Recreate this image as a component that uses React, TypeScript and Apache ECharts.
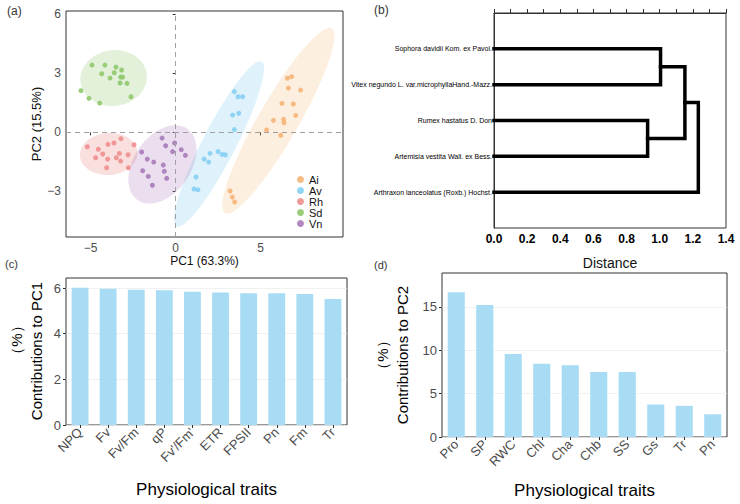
import React, { useEffect, useRef } from "react";
import * as echarts from "echarts";

// ---------- Panel (a): PCA scores ----------
const groups = ["Ai", "Av", "Rh", "Sd", "Vn"];
const groupColors = ["#F6B477", "#86CFF3", "#EE8E8E", "#8FC86A", "#A97BBA"];
const ellipseFills = [
  "rgba(248,180,110,0.22)",
  "rgba(120,200,240,0.24)",
  "rgba(235,130,130,0.26)",
  "rgba(140,195,100,0.24)",
  "rgba(170,120,190,0.24)",
];
const aiPoints = [
  [6.57, 2.75], [6.82, 2.83], [6.63, 2.25], [7.35, 2.15], [6.25, 1.47],
  [6.92, 1.44], [5.75, 0.61], [6.35, 0.66], [6.37, 0.49], [7.06, 0.86],
  [5.35, 0.12], [6.18, -0.15], [3.2, -2.98], [3.33, -3.29], [3.47, -3.54],
];
const avPoints = [
  [3.45, 2.07], [3.67, 1.81], [3.94, 1.81], [3.35, 0.88], [3.71, 0.97],
  [3.45, 0.14], [2.02, -1.07], [2.49, -0.98], [2.73, -1.12], [2.92, -1.14],
  [1.67, -1.36], [1.94, -1.51], [1.2, -2.27], [1.08, -2.88], [1.31, -2.92],
];
const rhPoints = [
  [-5.2, -0.73], [-4.55, -0.86], [-4.29, -1.1], [-3.98, -0.61], [-3.63, -0.54],
  [-3.22, -0.32], [-2.45, -0.63], [-4.71, -1.29], [-4.0, -1.36], [-3.49, -1.29],
  [-3.31, -1.07], [-2.8, -1.14], [-3.24, -1.46], [-4.06, -1.8], [-2.78, -1.8],
];
const sdPoints = [
  [-4.92, 3.42], [-4.16, 3.42], [-3.51, 3.32], [-4.35, 2.98], [-3.61, 3.03],
  [-3.18, 3.17], [-3.86, 2.76], [-3.24, 2.81], [-3.12, 2.81], [-3.27, 2.51],
  [-2.86, 2.49], [-5.57, 2.12], [-5.1, 1.73], [-4.47, 1.49], [-2.63, 1.81],
];
const vnPoints = [
  [-0.8, -0.29], [-0.59, -0.68], [-0.06, -0.54], [-2.0, -1.0], [-0.18, -0.98],
  [0.33, -0.88], [0.57, -1.17], [-1.67, -1.36], [-1.29, -1.51], [-0.73, -1.66],
  [-1.94, -1.95], [-1.61, -2.24], [-0.67, -1.98], [-0.53, -2.34], [-1.37, -2.69],
];
const groupPoints = [aiPoints, avPoints, rhPoints, sdPoints, vnPoints];
// ellipse: centre, and two conjugate half-diameters (data units)
const ellipseCenters = [[6.04, 0.59], [2.55, -0.59], [-3.94, -1.1], [-3.65, 2.76], [-0.78, -1.63]];
const ellipseAxisU = [[3.14, 4.7], [2.5, 4.19], [1.69, 0.05], [1.96, 0.1], [1.46, 1.81]];
const ellipseAxisV = [[1.02, -0.51], [0.87, -0.39], [0, 1.07], [-0.05, 1.42], [1.37, -0.83]];
const pcaXTicks = [-5, 0, 5];
const pcaYTicks = [-3, 0, 3, 6];

// ---------- Panel (b): dendrogram ----------
const leafNames = [
  "Sophora davidii Kom. ex Pavol.",
  "Vitex negundo L. var.microphyllaHand.-Mazz.",
  "Rumex hastatus D. Don",
  "Artemisia vestita Wall. ex Bess.",
  "Arthraxon lanceolatus (Roxb.) Hochst.",
];
// merges: [childA, childB, height]; children: leaf "L#" or merge "M#"
const merges: [string, string, number][] = [
  ["L0", "L1", 1.005],
  ["L2", "L3", 0.927],
  ["M0", "M1", 1.152],
  ["M2", "L4", 1.233],
];

// ---------- Panels (c) and (d): contributions ----------
const pc1Traits = ["NPQ", "Fv", "Fv/Fm", "qP", "Fv'/Fm'", "ETR", "FPSII", "Pn", "Fm", "Tr"];
const pc1Values = [6.01, 5.97, 5.92, 5.9, 5.84, 5.8, 5.77, 5.77, 5.74, 5.52];
const pc1Ticks = [0, 2, 4, 6];
const pc2Traits = ["Pro", "SP", "RWC", "Chl", "Cha", "Chb", "SS", "Gs", "Tr", "Pn"];
const pc2Values = [16.67, 15.2, 9.57, 8.45, 8.26, 7.48, 7.48, 3.74, 3.59, 2.62];
const pc2Ticks = [0, 5, 10, 15];

const FONT = 'Arial, "Liberation Sans", Helvetica, sans-serif';

function buildDendroSeries() {
  const nodePos: Record<string, [number, number]> = {};
  leafNames.forEach((_, i) => (nodePos["L" + i] = [0, i + 1]));
  const series: any[] = [];
  merges.forEach(([a, b, h], i) => {
    const pa = nodePos[a];
    const pb = nodePos[b];
    nodePos["M" + i] = [h, (pa[1] + pb[1]) / 2];
    series.push({
      type: "line",
      xAxisIndex: 1,
      yAxisIndex: 1,
      symbol: "none",
      silent: true,
      lineStyle: { color: "#000", width: 3.5, cap: "square", join: "miter" },
      data: [[pa[0], pa[1]], [h, pa[1]], [h, pb[1]], [pb[0], pb[1]]],
    });
  });
  return series;
}

export default function App() {
  const ref = useRef<HTMLDivElement>(null);
  useEffect(() => {
    if (!ref.current) return;
    const chart = echarts.init(ref.current, undefined, { renderer: "svg" });

    const gridBox = { show: true, borderColor: "#333", borderWidth: 1, backgroundColor: "transparent" };
    const grayLabel = () => ({ color: "#4D4D4D", fontSize: 13, fontFamily: FONT });
    const tickStyle = () => ({ show: true, length: 3, lineStyle: { color: "#333" } });

    const barYAxis = (grid: number, max: number, ticks: number[], name: string, gap: number) => ({
      gridIndex: grid,
      type: "value",
      position: "left",
      min: 0,
      max,
      name,
      nameLocation: "middle",
      nameGap: gap,
      nameTextStyle: { fontSize: 15, color: "#000", lineHeight: 20 },
      axisLine: { show: false },
      axisTick: { ...tickStyle(), customValues: ticks },
      axisLabel: { ...grayLabel(), margin: 5, customValues: ticks },
      splitLine: { show: true, lineStyle: { color: "#EEEEEE", width: 0.8 } },
    });

    const option: any = {
      animation: false,
      textStyle: { fontFamily: FONT },
      grid: [
        { ...gridBox, left: 66, top: 11, width: 277, height: 226 },
        { ...gridBox, left: 494, top: 13, width: 232, height: 215 },
        { ...gridBox, left: 66, top: 278, width: 281, height: 147 },
        { ...gridBox, left: 442, top: 273, width: 285, height: 164 },
      ],
      legend: {
        data: groups,
        orient: "vertical",
        left: 292,
        top: 169,
        icon: "circle",
        itemWidth: 7,
        itemHeight: 7,
        itemGap: 0,
        textStyle: { fontSize: 11, lineHeight: 11, color: "#111", fontFamily: FONT },
      },
      xAxis: [
        {
          gridIndex: 0,
          type: "value",
          min: -6.45,
          max: 9.84,
          name: "PC1 (63.3%)",
          nameLocation: "middle",
          nameGap: 18,
          nameTextStyle: { fontSize: 12, color: "#111" },
          axisLine: { show: false },
          axisTick: { ...tickStyle(), customValues: pcaXTicks },
          axisLabel: { ...grayLabel(), fontSize: 12, margin: 5, customValues: pcaXTicks, formatter: (v: number) => (v < 0 ? "\u2212" + Math.abs(v) : String(v)) },
          splitLine: { show: false },
        },
        {
          gridIndex: 1,
          type: "value",
          min: 0,
          max: 1.4,
          interval: 0.2,
          name: "Distance",
          nameLocation: "middle",
          nameGap: 28,
          nameTextStyle: { fontSize: 14, color: "#111" },
          axisLine: { show: true, lineStyle: { color: "#333" } },
          axisTick: { show: true, inside: true, length: 4, lineStyle: { color: "#333" } },
          minorTick: { show: true, splitNumber: 2, length: 4, lineStyle: { color: "#333" } },
          axisLabel: {
            fontSize: 12,
            fontWeight: "bold",
            color: "#000",
            margin: 5,
            formatter: (v: number) => v.toFixed(1),
          },
          splitLine: { show: false },
        },
        {
          gridIndex: 2,
          type: "category",
          data: pc1Traits,
          name: "Physiological traits",
          nameLocation: "middle",
          nameGap: 56,
          nameTextStyle: { fontSize: 17, color: "#000" },
          axisLine: { show: false },
          axisTick: { ...tickStyle(), alignWithLabel: true },
          axisLabel: { ...grayLabel(), rotate: 45, margin: 5, interval: 0 },
        },
        {
          gridIndex: 3,
          type: "category",
          data: pc2Traits,
          name: "Physiological traits",
          nameLocation: "middle",
          nameGap: 45,
          nameTextStyle: { fontSize: 17, color: "#000" },
          axisLine: { show: false },
          axisTick: { ...tickStyle(), alignWithLabel: true },
          axisLabel: { ...grayLabel(), rotate: 45, margin: 5, interval: 0 },
        },
      ],
      yAxis: [
        {
          gridIndex: 0,
          type: "value",
          min: -5.32,
          max: 6.17,
          name: "PC2 (15.5%)",
          nameLocation: "middle",
          nameGap: 18,
          nameTextStyle: { fontSize: 13, color: "#111" },
          axisLine: { show: false },
          axisTick: { ...tickStyle(), customValues: pcaYTicks },
          axisLabel: { ...grayLabel(), fontSize: 12, margin: 5, customValues: pcaYTicks, formatter: (v: number) => (v < 0 ? "\u2212" + Math.abs(v) : String(v)) },
          splitLine: { show: false },
        },
        {
          gridIndex: 1,
          type: "value",
          min: 0,
          max: 6,
          inverse: true,
          axisLine: { show: true, lineStyle: { color: "#333" } },
          axisTick: { show: false },
          axisLabel: {
            fontSize: 7,
            color: "#000",
            margin: 2,
            customValues: [1, 2, 3, 4, 5],
            formatter: (v: number) => leafNames[Math.round(v) - 1] || "",
          },
          splitLine: { show: false },
        },
        barYAxis(2, 6.44, pc1Ticks, "", 30),
        barYAxis(3, 18.9, pc2Ticks, "（%）\nContributions to PC2", 30),
      ],
      series: [
        {
          type: "custom",
          xAxisIndex: 0,
          yAxisIndex: 0,
          silent: true,
          z: 1,
          data: ellipseCenters.map((c, i) => [c[0], c[1], i]),
          renderItem: (params: any, api: any) => {
            const i = api.value(2);
            const c = ellipseCenters[i];
            const u = ellipseAxisU[i];
            const v = ellipseAxisV[i];
            const pts: number[][] = [];
            for (let k = 0; k < 96; k++) {
              const t = (k / 96) * Math.PI * 2;
              const x = c[0] + Math.cos(t) * u[0] + Math.sin(t) * v[0];
              const y = c[1] + Math.cos(t) * u[1] + Math.sin(t) * v[1];
              pts.push(api.coord([x, y]));
            }
            return { type: "polygon", shape: { points: pts }, style: { fill: ellipseFills[i] } };
          },
        },
        {
          type: "line",
          xAxisIndex: 0,
          yAxisIndex: 0,
          data: [],
          silent: true,
          markLine: {
            silent: true,
            symbol: "none",
            label: { show: false },
            lineStyle: { color: "#A0A0A0", type: [5, 4], width: 1 },
            data: [{ xAxis: 0 }, { yAxis: 0 }],
          },
        },
        ...groups.map((g, gi) => ({
          type: "scatter",
          name: g,
          xAxisIndex: 0,
          yAxisIndex: 0,
          z: 3,
          symbolSize: 5,
          itemStyle: { color: groupColors[gi], opacity: 0.9 },
          data: groupPoints[gi],
        })),
        ...buildDendroSeries(),
        {
          type: "bar",
          xAxisIndex: 2,
          yAxisIndex: 2,
          barWidth: "60%",
          itemStyle: { color: "#A8DCF4" },
          data: pc1Values,
        },
        {
          type: "bar",
          xAxisIndex: 3,
          yAxisIndex: 3,
          barWidth: "60%",
          itemStyle: { color: "#A8DCF4" },
          data: pc2Values,
        },
      ],
      graphic: [
        { type: "text", left: 7, top: 5, style: { text: "(a)", fontSize: 12, fill: "#333", fontFamily: FONT } },
        { type: "text", left: 374, top: 4, style: { text: "(b)", fontSize: 12, fill: "#333", fontFamily: FONT } },
        { type: "text", left: 5, top: 258, style: { text: "(c)", fontSize: 11, fill: "#333", fontFamily: FONT } },
        { type: "text", left: 374, top: 259, style: { text: "(d)", fontSize: 11, fill: "#333", fontFamily: FONT } },
        {
          type: "text",
          x: 36,
          y: 351,
          rotation: Math.PI / 2,
          style: { text: "Contributions to PC1", fontSize: 15, fill: "#000", fontFamily: FONT, align: "center", verticalAlign: "middle" },
        },
        {
          type: "text",
          x: 16,
          y: 340,
          rotation: Math.PI / 2,
          style: { text: "（%）", fontSize: 15, fill: "#000", fontFamily: FONT, align: "center", verticalAlign: "middle" },
        },
      ],
    };
    chart.setOption(option);
    return () => chart.dispose();
  }, []);
  return (
    <div
      ref={ref}
      style={{ position: "absolute", left: 0, top: 0, width: 740, height: 504, background: "#fff" }}
    />
  );
}
